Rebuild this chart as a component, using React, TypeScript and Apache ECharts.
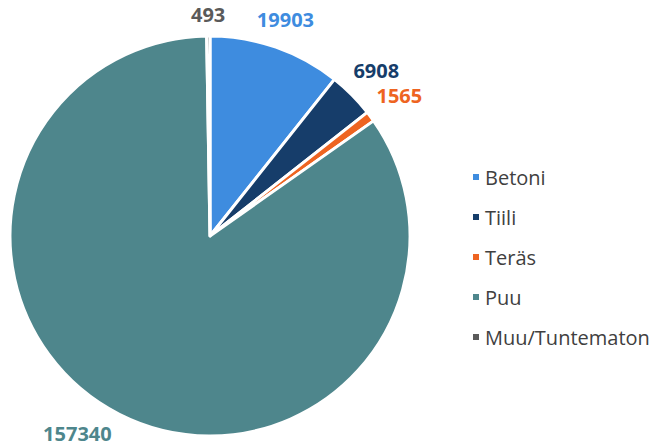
import React, { useEffect, useRef } from "react";
import * as echarts from "echarts";

const categories = ["Betoni", "Tiili", "Teräs", "Puu", "Muu/Tuntematon"];
const values = [19903, 6908, 1565, 157340, 493];
const colors = ["#3E8CDF", "#163D6A", "#EE6421", "#4E868C", "#5A5A5A"];

const CX = 210;
const CY = 236;
const R = 200;
const W = 654;
const H = 445;

export default function App() {
  const ref = useRef<HTMLDivElement>(null);
  useEffect(() => {
    const chart = echarts.init(ref.current!, undefined, { renderer: "svg" });
    const data = categories.map((name, i) => ({
      name,
      value: values[i],
      itemStyle: { color: colors[i] },
      label: { color: colors[i] },
    }));
    const nearestDist = (x: number, y: number, hw: number, hh: number) => {
      const nx = Math.min(Math.max(CX, x - hw), x + hw);
      const ny = Math.min(Math.max(CY, y - hh), y + hh);
      return Math.hypot(nx - CX, ny - CY);
    };
    chart.setOption({
      animation: false,
      backgroundColor: "#ffffff",
      legend: {
        orient: "vertical",
        left: 466,
        top: 162,
        itemWidth: 8,
        itemHeight: 8,
        itemGap: 20,
        icon: "rect",
        textStyle: {
          fontFamily: "Open Sans",
          fontSize: 20,
          color: "#404040",
          lineHeight: 20,
          padding: [0, 0, 0, 0],
        },
        data: categories,
      },
      series: [
        {
          type: "pie",
          center: [CX, CY],
          radius: [0, R],
          startAngle: 90,
          clockwise: true,
          avoidLabelOverlap: false,
          itemStyle: { borderColor: "#ffffff", borderWidth: 3 },
          label: {
            show: true,
            position: "outside",
            formatter: "{c}",
            fontFamily: "Open Sans",
            fontWeight: "bold",
            fontSize: 20,
          },
          labelLine: { show: true, length: 1, length2: 0, lineStyle: { opacity: 0 } },
          labelLayout: (params: any) => {
            const pts = params.labelLinePoints;
            if (!pts || pts.length < 2) return {};
            let dx = pts[1][0] - pts[0][0];
            let dy = pts[1][1] - pts[0][1];
            const len = Math.hypot(dx, dy) || 1;
            dx /= len;
            dy /= len;
            const hw = params.labelRect.width / 2;
            const hh = 9;
            const target = R + 12;
            let t = R;
            let x = CX + dx * t;
            let y = CY + dy * t;
            for (let k = 0; k < 400 && nearestDist(x, y, hw, hh) < target; k++) {
              t += 0.5;
              x = CX + dx * t;
              y = CY + dy * t;
            }
            const maxY = H - hh - 3;
            const minY = hh + 3;
            if (y > maxY || y < minY) {
              y = Math.min(Math.max(y, minY), maxY);
              const sx = dx < 0 ? -1 : 1;
              for (let k = 0; k < 800 && nearestDist(x, y, hw, hh) < target; k++) {
                x += sx * 0.5;
              }
            }
            x = Math.min(Math.max(x, hw + 2), W - hw - 2);
            return { x, y, align: "center", verticalAlign: "middle" };
          },
          data,
        },
      ],
    });
    return () => chart.dispose();
  }, []);
  return (
    <div
      ref={ref}
      style={{ position: "absolute", left: 0, top: 0, width: W, height: H }}
    />
  );
}
